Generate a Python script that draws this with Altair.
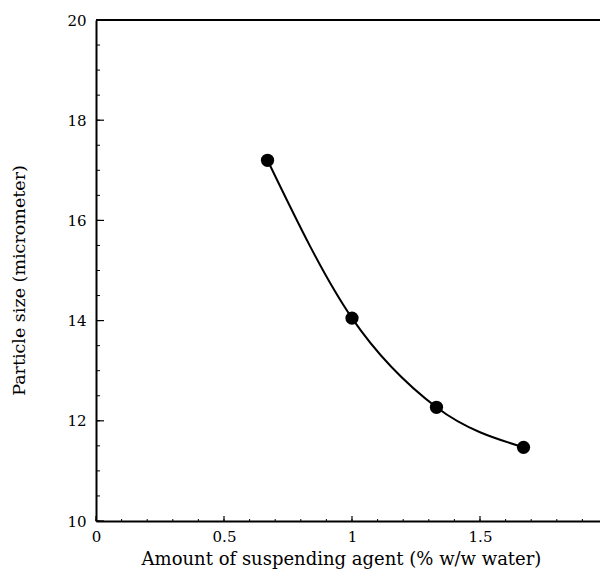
import altair as alt
import pandas as pd

# data
agent = [0.67, 1.0, 1.33, 1.67]
size_um = [17.2, 14.05, 12.27, 11.47]

x_major = [0, 0.5, 1, 1.5, 2]
x_minor = [round(i * 0.1, 1) for i in range(0, 21)]
y_major = [10, 12, 14, 16, 18, 20]
y_minor = [10 + i * 0.5 for i in range(0, 21)]

FONT = "DejaVu Serif"
XMAX = 504 / 256  # visible part of the 0..2 axis

df = pd.DataFrame({"agent": agent, "size": size_um})
xs = alt.Scale(domain=[0, XMAX], nice=False, zero=False)
ys = alt.Scale(domain=[10, 20], nice=False)

xaxis = alt.Axis(values=x_major, labelExpr="datum.value", tickSize=0, labelPadding=8,
                 grid=False, domainColor="black", domainWidth=2, labelFont=FONT,
                 labelFontSize=15, labelColor="black", labelBound=False, labelFlush=False,
                 labelOverlap=False,
                 title="Amount of suspending agent (% w/w water)",
                 titleFont=FONT, titleFontSize=18, titleFontWeight="normal", titleColor="black",
                 titlePadding=6, titleX=245)
yaxis = alt.Axis(values=y_major, tickSize=0, labelPadding=10, grid=False, domainColor="black",
                 domainWidth=2, labelFont=FONT, labelFontSize=15, labelColor="black",
                 title="Particle size (micrometer)", titleFont=FONT, titleFontSize=17.5,
                 titleFontWeight="normal", titleColor="black", titlePadding=38, titleY=260)

base = alt.Chart(df)
line = base.mark_line(interpolate="monotone", color="black", strokeWidth=2).encode(
    x=alt.X("agent:Q", scale=xs, axis=xaxis),
    y=alt.Y("size:Q", scale=ys, axis=yaxis),
)
pts = base.mark_circle(size=175, color="black", opacity=1).encode(
    x=alt.X("agent:Q", scale=xs), y=alt.Y("size:Q", scale=ys)
)

ymin = alt.Chart(pd.DataFrame({"v": y_minor})).mark_rule(color="black", strokeWidth=1).encode(
    y=alt.Y("v:Q", scale=ys), x=alt.value(0), x2=alt.value(4))
ymaj = alt.Chart(pd.DataFrame({"v": y_major})).mark_rule(color="black", strokeWidth=1.2).encode(
    y=alt.Y("v:Q", scale=ys), x=alt.value(0), x2=alt.value(8))
xmin = alt.Chart(pd.DataFrame({"v": [v for v in x_minor if v <= XMAX]})).mark_rule(
    color="black", strokeWidth=1).encode(
    x=alt.X("v:Q", scale=xs), y=alt.value(501), y2=alt.value(499))
xmaj = alt.Chart(pd.DataFrame({"v": [v for v in x_major if v <= XMAX]})).mark_rule(
    color="black", strokeWidth=1.2).encode(
    x=alt.X("v:Q", scale=xs), y=alt.value(501), y2=alt.value(496))
top = alt.Chart(pd.DataFrame({"v": [20]})).mark_rule(color="black", strokeWidth=2).encode(
    y=alt.Y("v:Q", scale=ys))

chart = alt.layer(ymin, ymaj, xmin, xmaj, top, line, pts).properties(
    width=504, height=501,
    autosize=alt.AutoSizeParams(type="none"),
    padding={"left": 88, "top": 12, "right": 0, "bottom": 54},
).configure_view(stroke=None).configure(background="white")

chart.save("out.html", embed_options={"renderer": "svg", "actions": False})
